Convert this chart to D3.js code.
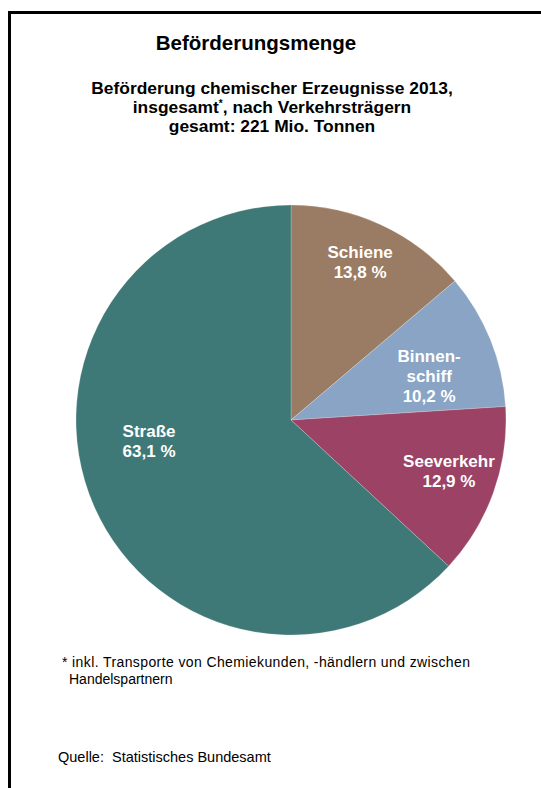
<!DOCTYPE html>
<html><head><meta charset="utf-8">
<script src="https://cdn.jsdelivr.net/npm/d3@7"></script>
<style>
html,body{margin:0;padding:0;background:#fff;}
svg{display:block;font-family:Arial,"Liberation Sans",sans-serif;}
</style></head>
<body>
<script>
// ---- data ----
const categories = ["Schiene", "Binnenschiff", "Seeverkehr", "Straße"];
const shares = [13.8, 10.2, 12.9, 63.1];
const labelLines = [["Schiene"], ["Binnen-", "schiff"], ["Seeverkehr"], ["Straße"]];
const colors = ["#9a7b63", "#8aa4c5", "#9b4265", "#3f7977"];
const title = "Beförderungsmenge";
const subtitle = ["Beförderung chemischer Erzeugnisse 2013,", "insgesamt*, nach Verkehrsträgern", "gesamt: 221 Mio. Tonnen"];
const footnote = ["* inkl. Transporte von Chemiekunden, -händlern und zwischen", "Handelspartnern"];
const source = "Quelle:  Statistisches Bundesamt";

// ---- layout (not data) ----
const W = 541, H = 788;
const cx = 291, cy = 420, R = 215;
const labelAngle = [23.7, 72.3, 107.9, -98.4];
const labelRadius = [172, 145, 166, 143.5];

const fmt = v => d3.format(".1f")(v).replace(".", ",") + " %";

const svg = d3.select("body").append("svg").attr("width", W).attr("height", H);
svg.append("rect").attr("width", W).attr("height", H).attr("fill", "#fff");

// frame (top and left lines)
svg.append("line").attr("x1", 9.5).attr("y1", 12.5).attr("x2", W).attr("y2", 12.5).attr("stroke", "#000").attr("stroke-width", 3);
svg.append("line").attr("x1", 9.5).attr("y1", 11).attr("x2", 9.5).attr("y2", H).attr("stroke", "#000").attr("stroke-width", 3);

// titles
svg.append("text").attr("x", 256).attr("y", 50).attr("text-anchor", "middle")
  .attr("font-size", 20.5).attr("font-weight", "bold").attr("fill", "#000").text(title);
const sub = svg.append("g");
subtitle.forEach((line, i) => {
  const t = sub.append("text").attr("x", 272).attr("y", 94 + i * 19.2).attr("text-anchor", "middle")
    .attr("font-size", 17.4).attr("font-weight", "bold").attr("fill", "#000");
  const parts = line.split("*");
  parts.forEach((p, k) => {
    if (k > 0) {
      t.append("tspan").attr("font-size", 10).attr("dy", -6).text("*");
      t.append("tspan").attr("dy", 6).text(p);
    } else {
      t.append("tspan").text(p);
    }
  });
});

// pie
const pie = d3.pie().sort(null).value(d => d.v);
const arcs = pie(categories.map((c, i) => ({ c, v: shares[i], i })));
const arc = d3.arc().innerRadius(0).outerRadius(R);
const g = svg.append("g").attr("transform", `translate(${cx},${cy})`);
g.selectAll("path").data(arcs).join("path")
  .attr("d", arc).attr("fill", d => colors[d.data.i])
  .attr("stroke", "rgba(255,255,255,0.35)").attr("stroke-width", 0.6);

// labels
const lh = 20, fs = 17;
arcs.forEach(d => {
  const i = d.data.i;
  const a = labelAngle[i] * Math.PI / 180;
  const x = Math.sin(a) * labelRadius[i];
  const y = -Math.cos(a) * labelRadius[i];
  const lines = labelLines[i].concat([fmt(shares[i])]);
  const y0 = y - (lines.length - 1) * lh / 2 + fs * 0.35;
  g.append("text").attr("text-anchor", "middle").attr("font-size", fs)
    .attr("font-weight", "bold").attr("fill", "#fff")
    .selectAll("tspan").data(lines).join("tspan")
    .attr("x", x).attr("y", (t, k) => y0 + k * lh).text(t => t);
});

// footnote
svg.append("text").attr("x", 62).attr("y", 667).attr("font-size", 14).attr("fill", "#000")
  .attr("textLength", 408).attr("lengthAdjust", "spacing").text(footnote[0]);
svg.append("text").attr("x", 69).attr("y", 684).attr("font-size", 14).attr("fill", "#000").text(footnote[1]);
svg.append("text").attr("x", 58).attr("y", 762).attr("font-size", 14.5).attr("fill", "#000")
  .style("white-space", "pre").text(source);
</script>
</body></html>
